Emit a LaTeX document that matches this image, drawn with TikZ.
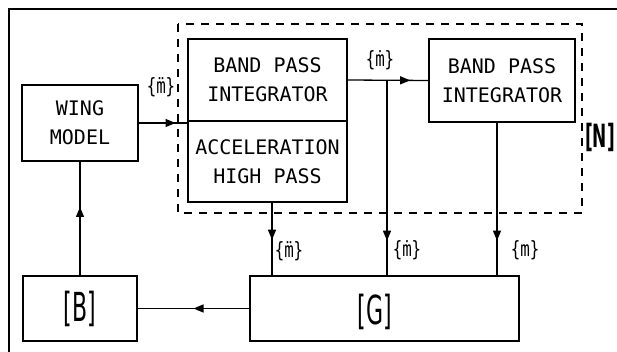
\documentclass[tikz,border=0pt]{standalone}
\usepackage{fontspec}
\setmainfont{DejaVu Sans Mono}
\newfontfamily\matfont{DejaVu Sans}
\newcommand\narrow[2]{\scalebox{#1}[1]{#2}}
\usetikzlibrary{positioning, arrows.meta, decorations.markings}

\begin{document}
\begin{tikzpicture}[x=1pt, y=-1pt]
  \tikzset{
    box/.style 2 args={rectangle, draw, line width=1.8pt, outer sep=0pt, inner sep=0pt,
      font=\fontsize{20}{29}\selectfont, align=center, minimum width=#1, minimum height=#2},
    flow/.style={line width=1.3pt, postaction={decorate}, decoration={markings,
      mark=at position #1 with {\arrow{Triangle[length=10pt, width=8pt]}}}},
    lbl/.style={font=\fontsize{21}{21}\selectfont, inner sep=0pt},
    mat/.style={font=\matfont\fontsize{40}{40}\selectfont, inner sep=0pt},
  }
  \useasboundingbox (0,0) rectangle (617,352);
  \clip (0,0) rectangle (617,352);
  \draw[line width=1.8pt] (9,9) rectangle (650,390);
  \draw[line width=1.5pt, dash pattern=on 8pt off 7pt] (178,24) rectangle (582,213);

  \node[box={116}{76}] (wing) at (80,123) {WING\\MODEL};
  \node[box={159}{82}] (bp1) at (267.5,80) {BAND PASS\\INTEGRATOR};
  \node[box={159}{81}, below=0pt of bp1] (hp) {ACCELERATION\\HIGH PASS};
  \node[box={146}{83}] (bp2) at (502,80.5) {BAND PASS\\INTEGRATOR};
  \node[box={114}{65}, mat] (B) at (80,308.5) {\narrow{0.55}{[B]}};
  \node[box={269}{65}] (G) at (384.5,308.5) {};
  \node[mat, xshift=-9.5pt, yshift=-3pt] (Glbl) at (G) {\narrow{0.55}{[G]}};
  \node[mat, font=\matfont\bfseries\fontsize{32}{32}\selectfont] (N) at (600,137) {\narrow{0.53}{[N]}};

  \coordinate (tap) at (387,80);
  \draw[flow=0.75] (wing.east) -- (wing.east -| hp.west);
  \draw[flow=0.77] (bp1.east) -- (bp2.west);
  \draw[flow=0.82] (tap) -- (tap |- G.north);
  \draw[flow=0.51] ([xshift=4.5pt]hp.south) -- ([xshift=4.5pt]hp.south |- G.north);
  \draw[flow=0.77] ([xshift=-5pt]bp2.south) -- ([xshift=-5pt]bp2.south |- G.north);
  \draw[flow=0.5] (G.west) -- (B.east);
  \draw[flow=0.6] (B.north) -- (wing.south);

  \node[lbl] (macc) at (161,87) {\narrow{0.75}{\{m^^^^0308\}}};
  \node[lbl] (mvel) at (380,60) {\narrow{0.75}{\{m^^^^0307\}}};
  \node[lbl] (macc2) at (289,251) {\narrow{0.75}{\{m^^^^0308\}}};
  \node[lbl] (mvel2) at (407,250) {\narrow{0.75}{\{m^^^^0307\}}};
  \node[lbl] (mdisp) at (525,250) {\narrow{0.75}{\{m\}}};
\end{tikzpicture}
\end{document}
